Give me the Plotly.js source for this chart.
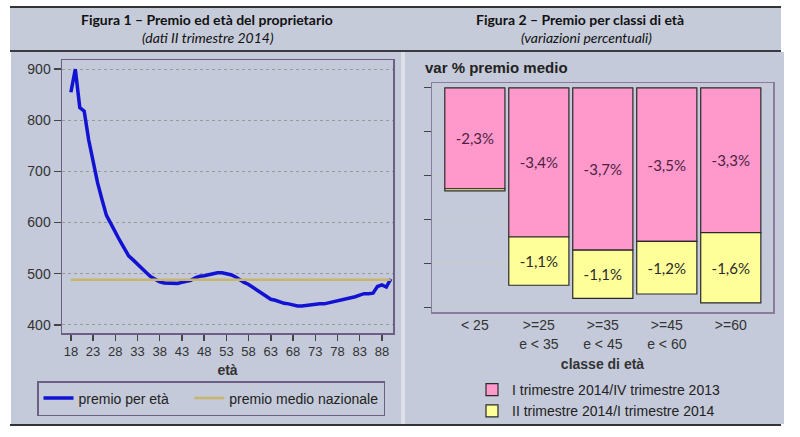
<!DOCTYPE html>
<html><head><meta charset="utf-8">
<script src="https://cdn.plot.ly/plotly-3.0.1.min.js"></script>
<style>html,body{margin:0;padding:0;background:#fff}#chart{width:800px;height:437px}</style>
</head><body><div id="chart"></div>
<script>
// ---- Data (Figura 1) ----
const ages = [18,19,20,21,22,23,24,25,26,27,28,29,30,31,32,33,34,35,36,37,38,39,40,41,42,43,44,45,46,47,48,49,50,51,52,53,54,55,56,57,58,59,60,61,62,63,64,65,66,67,68,69,70,71,72,73,74,75,76,77,78,79,80,81,82,83,84,85,86,87,88,89,90];
const premioPerEta = [855,900,825,818,762,718,678,645,614,598,
  580,565,550,535,527,518,510,502,494,489,
  484,482,482,481,481,483,485,487,492,495,
  496,498,501,502,502,500,498,494,488,483,
  479,473,467,461,455,450,448,445,442,441,
  439,437,437,438,440,440,441,441,443,445,
  446,449,451,453,455,458,461,461,462,475,
  478,474,490];
const premioMedioNazionale = 488;
const xTicks1 = [18,23,28,33,38,43,48,53,58,63,68,73,78,83,88];
const yTicks1 = [400,500,600,700,800,900];

// ---- Data (Figura 2) ----
const classi = ['&lt; 25', '&gt;=25<br>e &lt; 35', '&gt;=35<br>e &lt; 45', '&gt;=45<br>e &lt; 60', '&gt;=60'];
const varTrim1 = [-2.3, -3.4, -3.7, -3.5, -3.3];
const varTrim2 = [-0.05, -1.1, -1.1, -1.2, -1.6];
const labelsTrim1 = ['-2,3%', '-3,4%', '-3,7%', '-3,5%', '-3,3%'];
const labelsTrim2 = ['', '-1,1%', '-1,1%', '-1,2%', '-1,6%'];
const yTicks2 = [0, -1, -2, -3, -4, -5];

// ---- helpers for paper positions ----
const W = 800, H = 437;
const px = v => v / W;
const py = v => 1 - v / H;
const rect = (x0, y0, x1, y1, fill) => ({type:'rect', xref:'paper', yref:'paper', x0:px(x0), x1:px(x1), y0:py(y1), y1:py(y0), fillcolor:fill, line:{width:0}, layer:'below'});
const hline = (x0, x1, y, w, c) => ({type:'line', xref:'paper', yref:'paper', x0:px(x0), x1:px(x1), y0:py(y), y1:py(y), line:{color:c, width:w}, layer:'above'});
const note = (x, y, text, font, extra) => Object.assign({xref:'paper', yref:'paper', x:px(x), y:py(y), xanchor:'center', yanchor:'middle', text:text, showarrow:false, font:font}, extra || {});

const frameColor = '#6b5f86';
const titleFont = {family:'Lato, Liberation Sans', size:14, color:'#111'};
const legendSpacer = '\u00a0\u00a0\u00a0\u00a0';
const traces = [
  {type:'scatter', mode:'lines', x:ages, y:premioPerEta, xaxis:'x', yaxis:'y', name:'premio per età' + legendSpacer,
   line:{color:'#1212d2', width:3.5}, legend:'legend', hoverinfo:'skip'},
  {type:'scatter', mode:'lines', x:[ages[0], ages[ages.length-1]], y:[premioMedioNazionale, premioMedioNazionale],
   xaxis:'x', yaxis:'y', name:'premio medio nazionale', line:{color:'#c8b46a', width:2.5}, legend:'legend', hoverinfo:'skip'},
  {type:'bar', x:classi, y:varTrim1, xaxis:'x2', yaxis:'y2', name:'I trimestre 2014/IV trimestre 2013',
   marker:{color:'#ff99cc', line:{color:'#2a2a2a', width:1.2}}, text:labelsTrim1, textposition:'inside',
   insidetextanchor:'middle', textangle:0, constraintext:'none',
   textfont:{family:'Lato, Liberation Sans, Arial', size:15, color:'#4e1f40'}, legend:'legend2', hoverinfo:'skip'},
  {type:'bar', x:classi, y:varTrim2, xaxis:'x2', yaxis:'y2', name:'II trimestre 2014/I trimestre 2014',
   marker:{color:'#ffff99', line:{color:'#2a2a2a', width:1.2}}, text:labelsTrim2, textposition:'inside',
   insidetextanchor:'middle', textangle:0, constraintext:'none',
   textfont:{family:'Lato, Liberation Sans, Arial', size:15, color:'#2a2a2a'}, legend:'legend2', hoverinfo:'skip'}
];

const layout = {
  width:W, height:H, margin:{l:0, r:0, t:0, b:0},
  paper_bgcolor:'#ffffff', plot_bgcolor:'#ffffff',
  font:{family:'Liberation Sans, Arial, sans-serif', size:14, color:'#333'},
  barmode:'relative', bargap:0.06,
  xaxis:{domain:[px(62), px(393)], anchor:'y', range:[16, 90.5], tickvals:xTicks1, ticks:'outside', ticklen:6,
    tickwidth:1.5, tickcolor:'#444', showline:true, mirror:true, linecolor:frameColor, linewidth:1.5,
    showgrid:false, zeroline:false, tickfont:{size:13, color:'#333'},
    title:{text:'<b>età</b>', font:{size:14, color:'#333'}, standoff:7}},
  yaxis:{domain:[py(333), py(60)], anchor:'x', range:[384, 918], tickvals:yTicks1, ticks:'outside', ticklen:7,
    tickwidth:1.5, tickcolor:'#444', showline:true, mirror:true, linecolor:frameColor, linewidth:1.5,
    showgrid:true, gridcolor:'#9a9a9a', griddash:'dot', gridwidth:1, zeroline:false, tickfont:{size:14, color:'#333'}},
  xaxis2:{domain:[px(432), px(773)], anchor:'y2', type:'category', range:[-0.67, 4.66], ticks:'',
    showline:true, mirror:true, linecolor:'#8a7c9c', linewidth:1.5, showgrid:false, zeroline:false,
    tickfont:{size:14, color:'#333'}, title:{text:'<b>classe di età</b>', font:{size:14, color:'#333'}, standoff:8}},
  yaxis2:{domain:[py(312), py(83)], anchor:'x2', range:[-5.11, 0.11], tickvals:yTicks2, showticklabels:false,
    ticks:'outside', ticklen:7, tickcolor:'#444', showline:true, mirror:true, linecolor:'#8a7c9c', linewidth:1.5,
    showgrid:true, gridcolor:'#cccccc', gridwidth:1, zeroline:false},
  legend:{x:px(37), xanchor:'left', y:py(381), yanchor:'top', orientation:'h', bgcolor:'rgba(0,0,0,0)',
    bordercolor:frameColor, borderwidth:1.5, itemwidth:30, font:{size:14, color:'#222'}},
  legend2:{x:px(472), xanchor:'left', y:py(374), yanchor:'top', orientation:'v', bgcolor:'rgba(0,0,0,0)',
    borderwidth:0, tracegroupgap:0, font:{size:14, color:'#222'}, traceorder:'normal'},
  shapes:[
    rect(10, 8, 781, 50, '#c6cbd9'),
    rect(11, 52, 401, 424, '#c4cad9'),
    rect(401, 52, 405, 424, '#dde0e9'),
    rect(405, 52, 784, 424, '#c4cad9'),
    hline(10, 781, 7, 2, '#333'),
    hline(10, 781, 51, 2, '#3a3a44'),
    hline(10, 781, 425, 2, '#333')
  ],
  annotations:[
    note(207, 20, '<b>Figura 1 – Premio ed età del proprietario</b>', titleFont),
    note(208, 38, '<i>(dati II trimestre 2014)</i>', titleFont),
    note(580, 20, '<b>Figura 2 – Premio per classi di età</b>', titleFont),
    note(586, 38, '<i>(variazioni percentuali)</i>', titleFont),
    note(423, 68, '<b>var % premio medio</b>', {size:15, color:'#222'}, {xanchor:'left'})
  ]
};

Plotly.newPlot('chart', traces, layout, {displayModeBar:false, staticPlot:true});
</script>
</body></html>
